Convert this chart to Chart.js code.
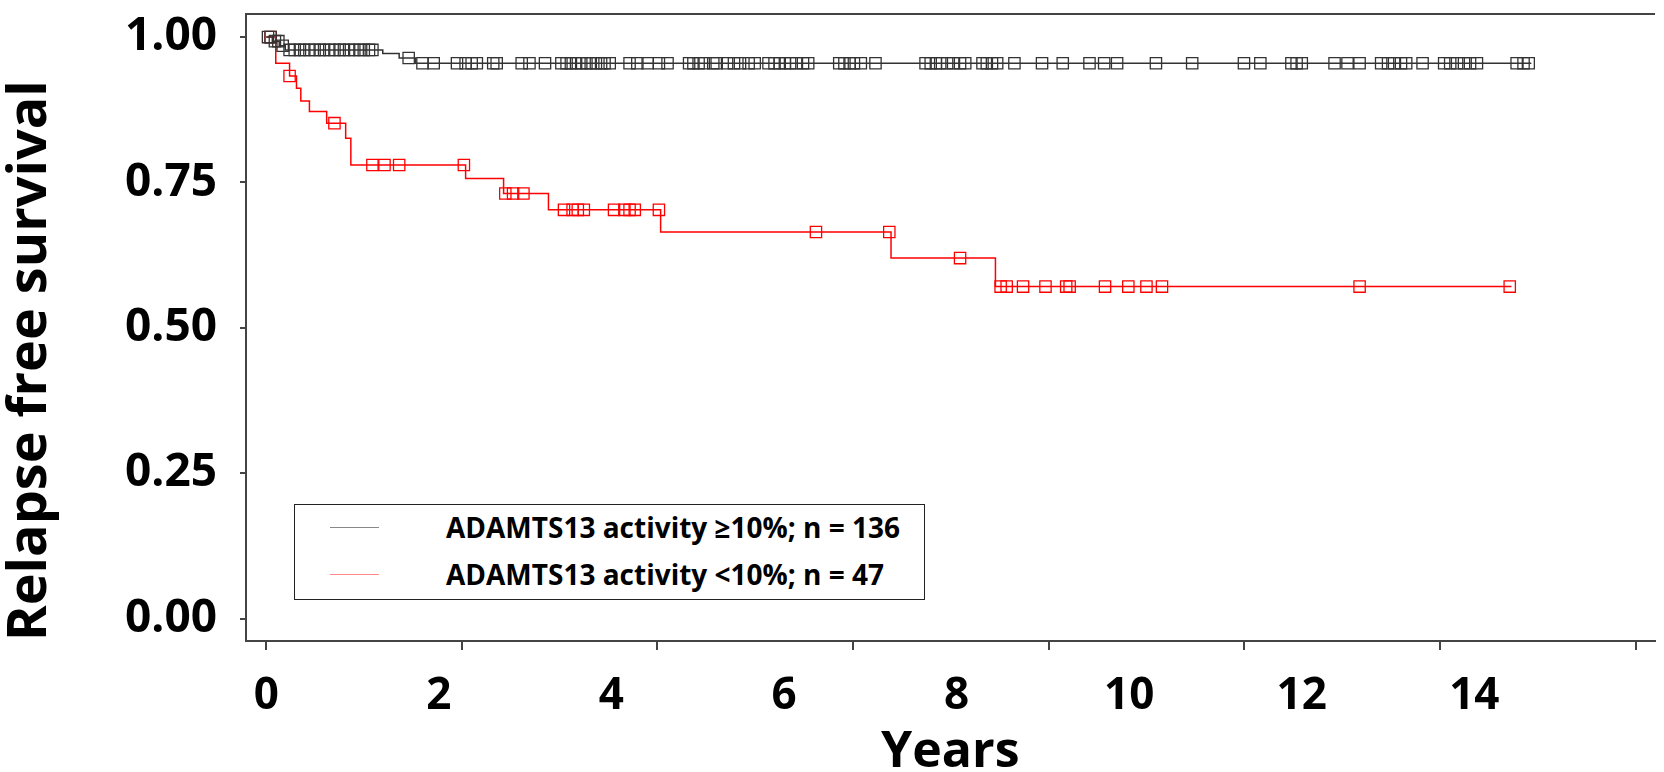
<!DOCTYPE html>
<html>
<head>
<meta charset="utf-8">
<script src="https://cdn.jsdelivr.net/npm/chart.js@4"></script>
<style>
  body { margin: 0; background: #fff; }
  #wrap { position: relative; width: 1664px; height: 772px; }
  #legend {
    position: absolute; left: 294px; top: 504px; width: 631px; height: 96px;
    box-sizing: border-box; border: 1.5px solid #222; background: #fff;
    font-family: "Open Sans", sans-serif; font-weight: 700; font-size: 28px; color: #000;
  }
  .item { position: absolute; left: 0; height: 40px; line-height: 40px; white-space: nowrap; }
  .item .sample { position: absolute; left: 35px; top: 20px; width: 49px; height: 0; border-top: 1.5px solid; }
  .item .txt { position: absolute; left: 151px; }
</style>
</head>
<body>
<div id="wrap">
  <canvas id="grafico" width="1664" height="772"></canvas>
  <div id="legend"></div>
</div>
<script>
// Kaplan-Meier curves, years vs relapse free survival
const serieNombres = ["ADAMTS13 activity \u226510%; n = 136", "ADAMTS13 activity <10%; n = 47"];
const serieColores = ["#333333", "#ff0000"];
const muestraColores = ["#888888", "#ff8888"];

// black group (>=10%)
const tiemposAlto = [0, 0.07, 0.15, 0.22, 1.35, 1.54, 1.73, 14.66];
const supervAlto = [1, 0.993, 0.985, 0.978, 0.972, 0.964, 0.955, 0.955];
const censuraAlto = [0.02, 0.05, 0.10, 0.14, 0.19,
  0.27, 0.33, 0.39, 0.44, 0.50, 0.56, 0.62, 0.67, 0.73, 0.79, 0.85, 0.90, 0.96, 1.02, 1.08, 1.13, 1.19, 1.23,
  1.65, 1.81, 1.94, 2.21, 2.31, 2.38, 2.44, 2.63, 2.67, 2.96, 3.05, 3.23, 3.42, 3.48, 3.53, 3.59, 3.65, 3.71,
  3.76, 3.82, 3.88, 3.92, 3.98, 4.21, 4.30, 4.42, 4.55, 4.65, 4.90, 4.95, 5.01, 5.07, 5.18, 5.22, 5.34, 5.42,
  5.49, 5.59, 5.66, 5.82, 5.89, 5.95, 6.01, 6.07, 6.14, 6.22, 6.28, 6.64, 6.70, 6.76, 6.81, 6.89, 7.06, 7.64,
  7.70, 7.76, 7.81, 7.89, 7.96, 8.04, 8.10, 8.30, 8.35, 8.41, 8.47, 8.67, 8.99, 9.23, 9.54, 9.71, 9.86, 10.31,
  10.73, 11.33, 11.52, 11.88, 11.94, 12.00, 12.38, 12.53, 12.67, 12.92, 13.00, 13.07, 13.15, 13.21, 13.40,
  13.65, 13.72, 13.80, 13.88, 13.95, 14.03, 14.49, 14.57, 14.63];

// red group (<10%)
const tiemposBajo = [0, 0.11, 0.27, 0.35, 0.40, 0.50, 0.70, 0.92, 0.98, 2.31, 2.75, 3.27, 4.57, 7.24, 8.45, 14.43];
const supervBajo = [1, 0.955, 0.933, 0.912, 0.890, 0.872, 0.852, 0.826, 0.780, 0.757, 0.731, 0.703, 0.665, 0.620, 0.571, 0.571];
const censuraBajo = [0.05, 0.27, 0.79, 1.23, 1.37, 1.54, 2.29, 2.77, 2.86, 2.98, 3.45, 3.55, 3.61, 3.68,
  4.03, 4.15, 4.21, 4.27, 4.55, 6.37, 7.22, 8.04, 8.51, 8.58, 8.77, 9.03, 9.27, 9.31, 9.72, 9.99, 10.20,
  10.38, 12.67, 14.41];

const ticksX = [0, 2, 4, 6, 8, 10, 12, 14];
const ticksY = [0, 0.25, 0.5, 0.75, 1];
// tick marks of the original axis do not sit under the labels
const marcasX = [0, 2, 4, 6, 8, 10, 12, 14];

const fuente = "'Open Sans', sans-serif";
const colorEje = "#444444";

function curva(tiempos, superv) {
  return tiempos.map((t, i) => ({ x: t, y: superv[i] }));
}

// survival level of the step curve at time t
function nivel(tiempos, superv, t) {
  let s = superv[0];
  for (let i = 0; i < tiempos.length; i++) {
    if (tiempos[i] <= t) s = superv[i];
  }
  return s;
}

function censuras(cens, tiempos, superv) {
  return cens.map((t) => ({ x: t, y: nivel(tiempos, superv, t) }));
}

function datasetLinea(data, color) {
  return { type: "line", data, borderColor: color, borderWidth: 1.5, stepped: "before", pointRadius: 0, fill: false };
}

function datasetCensura(data, color) {
  return { type: "scatter", data, borderColor: color, backgroundColor: "rgba(0,0,0,0)", pointStyle: "rect",
    pointRadius: 8, borderWidth: 1.3, showLine: false };
}

// no extra room for labels at the ends of the axes
function sinRelleno(axis) {
  axis.paddingTop = 0;
  axis.paddingBottom = 0;
  axis.paddingLeft = 0;
  axis.paddingRight = 0;
}

const config = {
  data: {
    datasets: [
      datasetLinea(curva(tiemposAlto, supervAlto), serieColores[0]),
      datasetCensura(censuras(censuraAlto, tiemposAlto, supervAlto), serieColores[0]),
      datasetLinea(curva(tiemposBajo, supervBajo), serieColores[1]),
      datasetCensura(censuras(censuraBajo, tiemposBajo, supervBajo), serieColores[1])
    ]
  },
  options: {
    responsive: false,
    animation: false,
    devicePixelRatio: 1,
    layout: { padding: 0 },
    plugins: { legend: { display: false }, tooltip: { enabled: false } },
    scales: {
      x: {
        type: "linear", position: "bottom", weight: 1, min: -0.235, max: 16.09,
        grid: { display: false, drawTicks: false },
        border: { display: false },
        ticks: { color: "#000", font: { family: fuente, size: 44, weight: "bold" }, padding: 20, autoSkip: false, maxRotation: 0 },
        afterBuildTicks: (axis) => { axis.ticks = ticksX.map((v) => ({ value: v })); },
        afterFit: (axis) => { axis.height = 122; sinRelleno(axis); },
        title: { display: true, text: "Years", color: "#000", font: { family: fuente, size: 50, weight: "bold", lineHeight: 1 }, padding: { top: 0, bottom: -6 } }
      },
      xMarcas: {
        type: "linear", position: "bottom", weight: 0, min: -0.207, max: 14.196,
        grid: { drawOnChartArea: false, drawTicks: true, tickLength: 9, color: colorEje, lineWidth: 2 },
        border: { display: true, color: colorEje, width: 2 },
        ticks: { display: false },
        afterBuildTicks: (axis) => { axis.ticks = marcasX.map((v) => ({ value: v })); },
        afterFit: (axis) => { axis.height = 9; sinRelleno(axis); }
      },
      xArriba: {
        type: "linear", position: "top", min: 0, max: 1,
        grid: { display: false },
        border: { display: true, color: colorEje, width: 2 },
        ticks: { display: false },
        afterFit: (axis) => { axis.height = 14; sinRelleno(axis); }
      },
      y: {
        type: "linear", position: "left", min: -0.0383, max: 1.0397,
        grid: { drawOnChartArea: false, drawTicks: true, tickLength: 6, color: colorEje, lineWidth: 2 },
        border: { display: true, color: colorEje, width: 2 },
        ticks: { color: "#000", font: { family: fuente, size: 46, weight: "bold" }, padding: 23,
          callback: (v) => v.toFixed(2) },
        afterBuildTicks: (axis) => { axis.ticks = ticksY.map((v) => ({ value: v })); },
        afterFit: (axis) => { axis.width = 246; sinRelleno(axis); },
        title: { display: true, text: "Relapse free survival", align: "start", color: "#000",
          font: { family: fuente, size: 54, weight: "bold", lineHeight: 1 }, padding: { top: 4, bottom: 0 } }
      }
    }
  }
};

new Chart(document.getElementById("grafico"), config);

// legend box
const leyenda = document.getElementById("legend");
serieNombres.forEach((nombre, i) => {
  const item = document.createElement("div");
  item.className = "item";
  item.style.top = (i === 0 ? 2 : 49) + "px";
  item.style.width = "100%";
  item.innerHTML = '<span class="sample" style="border-color:' + muestraColores[i] + '"></span><span class="txt"></span>';
  item.querySelector(".txt").textContent = nombre;
  leyenda.appendChild(item);
});
</script>
</body>
</html>
